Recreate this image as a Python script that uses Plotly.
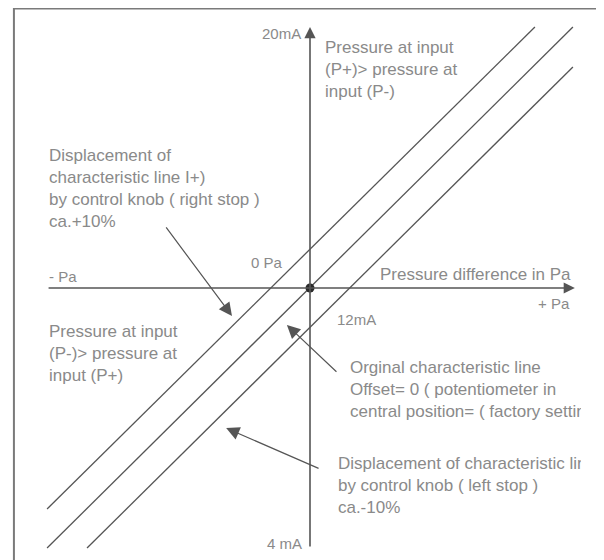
import plotly.graph_objects as go

# Characteristic lines: pressure difference (relative units) vs output current (mA)
line_plus_x = [-8.09, 6.92]      # displaced, right stop (+10%)
line_plus_y = [5.20, 20.03]
line_orig_x = [-8.09, 8.09]      # original line, offset 0
line_orig_y = [4.00, 20.03]
line_minus_x = [-6.86, 8.09]     # displaced, left stop (-10%)
line_minus_y = [4.00, 18.80]

# Axes: horizontal (pressure) and vertical (current)
h_axis_x = [-8.09, 8.15]
v_axis_y = [4.00, 20.03]
origin = (0, 12)

# Callout arrows: (tail_x, tail_y, tip_x, tip_y)
callouts = [
    (-4.46, 13.91, -2.40, 11.14),
    (0.86, 9.38, -0.71, 10.86),
    (0.31, 6.43, -2.58, 7.69),
]

# Text blocks: (text, x, y, xanchor, size)
labels = [
    ("20mA", -0.22, 19.82, "right", 15),
    ("4 mA", -0.19, 4.15, "right", 15),
    ("0 Pa", -0.77, 12.77, "right", 15),
    ("- Pa", -8.09, 12.34, "left", 15),
    ("+ Pa", 8.06, 11.51, "right", 15),
    ("12mA", 0.77, 11.02, "left", 15),
    ("Pressure difference in Pa", 8.08, 12.43, "right", 17),
    ("Pressure at input<br>(P+)> pressure at<br>input (P-)", 0.40, 18.71, "left", 17),
    ("Displacement of<br>characteristic line I+)<br>by control knob ( right stop )<br>ca.+10%",
     -8.09, 15.05, "left", 17),
    ("Pressure at input<br>(P-)> pressure at<br>input (P+)", -8.09, 9.97, "left", 17),
]

# Text blocks that run into the frame's text box edge and get cut there
cut_labels = [
    ("Orginal characteristic line<br>Offset= 0 ( potentiometer in<br>central position= ( factory setting )",
     1.23, 8.83),
    ("Displacement of characteristic line I-)<br>by control knob ( left stop )<br>ca.-10%",
     0.86, 5.88),
]

line_col = "#555555"
text_col = "#8a8a8a"
font_family = "Liberation Sans"

fig = go.Figure()

for xs, ys in [(line_plus_x, line_plus_y), (line_orig_x, line_orig_y), (line_minus_x, line_minus_y)]:
    fig.add_trace(go.Scatter(x=xs, y=ys, mode="lines", line=dict(color=line_col, width=1.3),
                             hoverinfo="skip", showlegend=False))

fig.add_trace(go.Scatter(x=[origin[0]], y=[origin[1]], mode="markers",
                         marker=dict(color="#2a2a2a", size=9), hoverinfo="skip", showlegend=False))

# clipped text on a second subplot that stops at the text box edge
fig.add_trace(go.Scatter(x=[c[1] for c in cut_labels], y=[c[2] for c in cut_labels],
                         text=[c[0] for c in cut_labels], mode="text", textposition="middle right",
                         textfont=dict(family=font_family, size=17, color=text_col),
                         cliponaxis=True, xaxis="x2", yaxis="y2", hoverinfo="skip", showlegend=False))

# Axes drawn as arrows
fig.add_annotation(x=h_axis_x[1], y=origin[1], ax=h_axis_x[0], ay=origin[1], axref="x", ayref="y",
                   text="", showarrow=True, arrowhead=2, arrowsize=1.4, arrowwidth=1.6, arrowcolor=line_col)
fig.add_annotation(x=origin[0], y=v_axis_y[1], ax=origin[0], ay=v_axis_y[0], axref="x", ayref="y",
                   text="", showarrow=True, arrowhead=2, arrowsize=1.4, arrowwidth=1.6, arrowcolor=line_col)

for tx, ty, hx, hy in callouts:
    fig.add_annotation(x=hx, y=hy, ax=tx, ay=ty, axref="x", ayref="y", text="", showarrow=True,
                       arrowhead=2, arrowsize=2.2, arrowwidth=1.2, arrowcolor=line_col)

for text, x, y, anchor, size in labels:
    fig.add_annotation(x=x, y=y, text=text, showarrow=False, xanchor=anchor, yanchor="middle",
                       align="left", font=dict(family=font_family, size=size, color=text_col))

# Drawing frame
fig.add_shape(type="rect", x0=-9.11, x1=8.98, y0=3.0, y1=20.60,
              line=dict(color="#7a7a7a", width=2))

# the page body has an 8px margin, so the figure is 8px smaller and the ranges start 8px in
x_range = [-9.292, 9.046]
y_range = [3.631, 20.615]
clip_frac = 573 / 596
fig.update_layout(
    width=596, height=552, margin=dict(l=0, r=0, t=0, b=0),
    plot_bgcolor="rgba(0,0,0,0)", paper_bgcolor="white",
    xaxis=dict(range=x_range, visible=False, fixedrange=True),
    yaxis=dict(range=y_range, visible=False, fixedrange=True),
    xaxis2=dict(domain=[0, clip_frac], anchor="y2", visible=False, fixedrange=True,
                range=[x_range[0], x_range[0] + (x_range[1] - x_range[0]) * clip_frac]),
    yaxis2=dict(domain=[0, 1], anchor="x2", range=y_range, visible=False, fixedrange=True),
)

fig.write_html("out.html")
